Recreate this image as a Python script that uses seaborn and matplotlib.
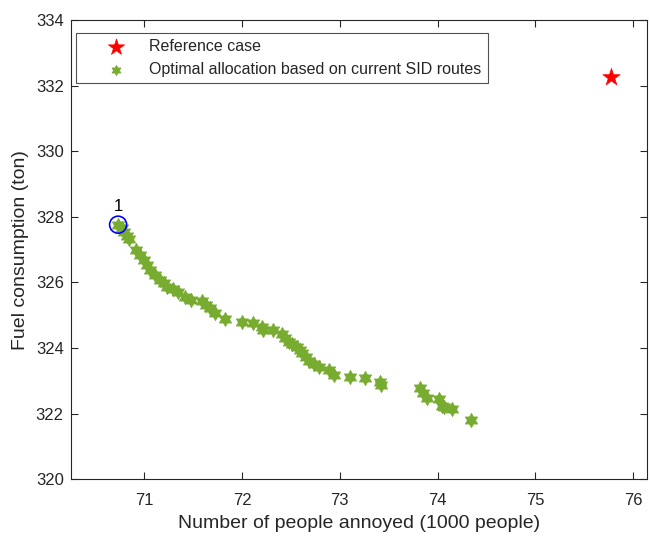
import numpy as np
import pandas as pd
import matplotlib
matplotlib.use("Agg")
import matplotlib.pyplot as plt
from matplotlib.path import Path
import seaborn as sns

# Pareto front of allocations along current SID routes
annoyed = [70.734, 70.765, 70.791, 70.816, 70.837, 70.914, 70.955, 70.990, 71.026,
           71.056, 71.108, 71.159, 71.195, 71.230, 71.292, 71.348, 71.414, 71.481,
           71.584, 71.630, 71.671, 71.722, 71.824, 72.003, 72.106, 72.198, 72.218,
           72.316, 72.403, 72.439, 72.475, 72.511, 72.557, 72.593, 72.613, 72.649,
           72.680, 72.731, 72.782, 72.884, 72.936, 73.099, 73.254, 73.408, 73.423,
           73.824, 73.852, 73.893, 74.012, 74.047, 74.063, 74.149, 74.347]
fuel = [327.75, 327.65, 327.54, 327.42, 327.31, 327.00, 326.84, 326.69, 326.53,
        326.38, 326.23, 326.08, 325.97, 325.85, 325.80, 325.71, 325.56, 325.47,
        325.44, 325.30, 325.22, 325.06, 324.90, 324.80, 324.77, 324.64, 324.54,
        324.55, 324.43, 324.32, 324.20, 324.11, 324.02, 323.93, 323.84, 323.73,
        323.62, 323.52, 323.42, 323.33, 323.17, 323.12, 323.09, 322.97, 322.89,
        322.79, 322.64, 322.48, 322.44, 322.25, 322.20, 322.15, 321.80]

# Reference (current) case
ref_annoyed = [75.78]
ref_fuel = [332.25]

# Highlighted solution
sel_label = "1"
sel_annoyed = 70.73
sel_fuel = 327.76

x_ticks = [71, 72, 73, 74, 75, 76]
y_ticks = [320, 322, 324, 326, 328, 330, 332, 334]

sns.set_theme(style="white")
plt.rcParams["font.family"] = ["Liberation Sans", "DejaVu Sans"]

# six-pointed star (hexagram) marker
ang_o = np.pi / 2 + np.arange(6) * np.pi / 3
ang_i = ang_o + np.pi / 6
r_in = 0.577
verts = []
for ao, ai in zip(ang_o, ang_i):
    verts.append((np.cos(ao), np.sin(ao)))
    verts.append((r_in * np.cos(ai), r_in * np.sin(ai)))
verts.append(verts[0])
codes = [Path.MOVETO] + [Path.LINETO] * 11 + [Path.CLOSEPOLY]
hexagram = Path(verts, codes)

green = "#77AC30"
ink = "#262626"

fig = plt.figure(figsize=(6.5, 5.38), dpi=100)
ax = fig.add_axes([0.1088, 0.109, 0.886, 0.854])

df_ref = pd.DataFrame({"x": ref_annoyed, "y": ref_fuel})
df_opt = pd.DataFrame({"x": annoyed, "y": fuel})

sns.scatterplot(data=df_ref, x="x", y="y", ax=ax, marker="*", s=170,
                color="red", edgecolor="red", linewidth=0.5,
                label="Reference case", zorder=3)
sns.scatterplot(data=df_opt, x="x", y="y", ax=ax, marker=hexagram, s=105,
                color=green, edgecolor=green, linewidth=0.5,
                label="Optimal allocation based on current SID routes", zorder=3)

ax.scatter([sel_annoyed], [sel_fuel], s=150, facecolors="none",
           edgecolors="blue", linewidths=1.2, zorder=4)
ax.annotate(sel_label, (sel_annoyed, sel_fuel), xytext=(0, 8),
            textcoords="offset points", ha="center", va="bottom",
            fontsize=12, color="black")

ax.set_xlim(70.245, 76.14)
ax.set_ylim(320, 334)
ax.set_xticks(x_ticks)
ax.set_yticks(y_ticks)
ax.set_xlabel("Number of people annoyed (1000 people)", fontsize=14, color=ink,
              labelpad=5)
ax.set_ylabel("Fuel consumption (ton)", fontsize=14, color=ink, labelpad=5)

ax.tick_params(axis="both", which="both", direction="in", length=5, width=0.8,
               labelsize=12, colors=ink, top=True, right=True,
               bottom=True, left=True)
ax.tick_params(axis="x", pad=10)
ax.tick_params(axis="y", pad=5)
for sp in ax.spines.values():
    sp.set_color(ink)
    sp.set_linewidth(0.8)
ax.grid(False)

leg = ax.legend(loc="upper left", bbox_to_anchor=(0.009, 0.972), fontsize=11.55,
                frameon=True, fancybox=False, edgecolor=ink,
                borderpad=0.4, handletextpad=-0.1, borderaxespad=0.0,
                labelspacing=0.47, handlelength=4.25)
leg.get_frame().set_linewidth(0.8)
handles = leg.legend_handles
handles[0].set_sizes([150])
handles[1].set_sizes([55])

fig.savefig("out.png", dpi=100)
